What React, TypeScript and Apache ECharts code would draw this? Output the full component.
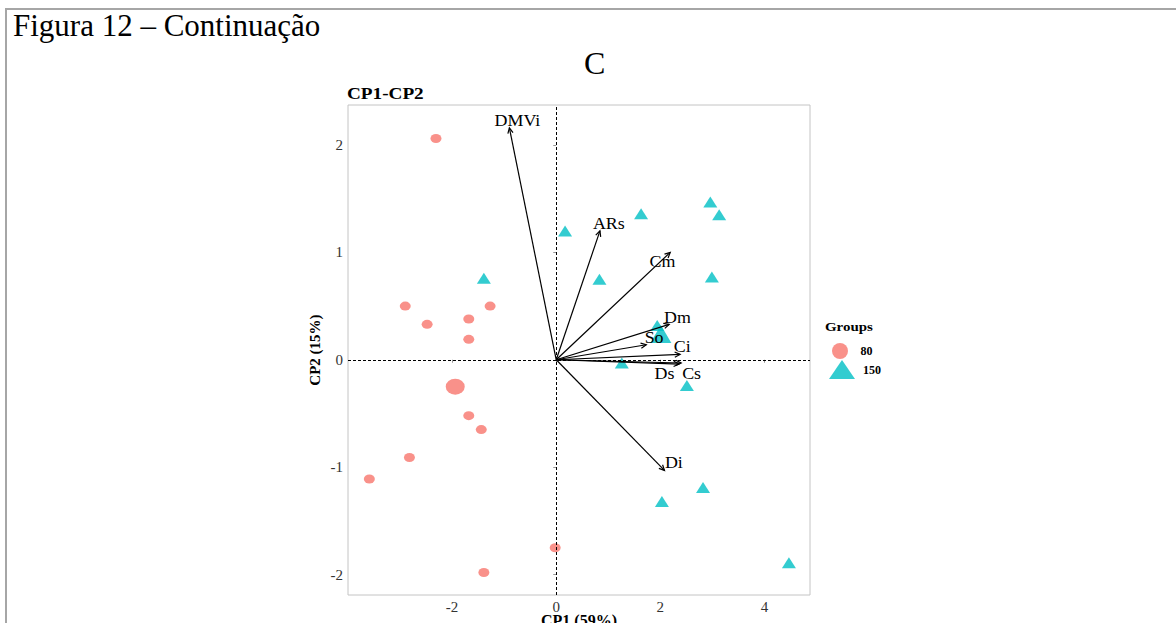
import React, { useEffect, useRef } from "react";
import * as echarts from "echarts";

const groupLabels = ["80", "150"];
const g80X = [-2.31, -2.9, -2.48, -1.68, -1.27, -1.68, -1.68, -1.44, -2.82, -3.59, -0.02, -1.39];
const g80Y = [2.06, 0.5, 0.33, 0.38, 0.5, 0.19, -0.52, -0.65, -0.91, -1.11, -1.75, -1.98];
const g80Centroid = [-1.94, -0.25];
const g150X = [-1.39, 0.17, 1.63, 2.96, 3.13, 0.83, 2.99, 1.94, 1.26, 2.51, 2.03, 2.82, 4.47];
const g150Y = [0.76, 1.2, 1.36, 1.47, 1.35, 0.75, 0.77, 0.32, -0.03, -0.24, -1.32, -1.19, -1.89];
const g150Centroid = [2.01, 0.24];
const varNames = ["DMVi", "ARs", "Cm", "Dm", "So", "Ci", "Ds", "Cs", "Di"];
const varX = [-0.9, 0.84, 2.19, 2.17, 1.73, 2.38, 2.36, 2.4, 2.08];
const varY = [2.16, 1.2, 1.0, 0.33, 0.14, 0.05, -0.04, -0.03, -1.03];
const varLabelX = [-0.745, 1.01, 2.04, 2.33, 1.88, 2.42, 2.08, 2.6, 2.26];
const varLabelY = [2.226, 1.27, 0.91, 0.39, 0.2, 0.12, -0.13, -0.13, -0.96];
const xTicks = [-2, 0, 2, 4];
const yTicks = [-2, -1, 0, 1, 2];

const RED = "#F8766D";
const CYAN = "#00BFC4";
const SERIF = '"Liberation Serif", "Times New Roman", serif';
const ELLIPSE = "path://M0,5 A5,5 0 1,1 10,5 A5,5 0 1,1 0,5 Z";

export default function App() {
  const ref = useRef<HTMLDivElement>(null);
  useEffect(() => {
    if (!ref.current) return;
    const chart = echarts.init(ref.current, null, { renderer: "svg" });
    const option: any = {
      animation: false,
      backgroundColor: "#fff",
      textStyle: { fontFamily: SERIF },
      grid: {
        left: 348,
        right: 366,
        top: 105,
        bottom: 28,
        show: true,
        borderColor: "#c4c4c4",
        borderWidth: 1,
        backgroundColor: "transparent",
        outerBoundsMode: "none",
        containLabel: false,
      },
      xAxis: {
        type: "value",
        min: -4,
        max: 4.875,
        name: "CP1 (59%)",
        nameLocation: "middle",
        nameGap: 17,
        nameMoveOverlap: false,
        nameTextStyle: { fontFamily: SERIF, fontWeight: "bold", fontSize: 16, color: "#000" },
        axisLine: { show: false },
        splitLine: { show: false },
        axisTick: { show: true, length: 3, lineStyle: { color: "#999" }, customValues: xTicks },
        axisLabel: { fontFamily: SERIF, fontSize: 15, color: "#333", margin: 4, customValues: xTicks },
      },
      yAxis: {
        type: "value",
        min: -2.19,
        max: 2.372,
        name: "CP2 (15%)",
        nameLocation: "middle",
        nameGap: 26,
        nameMoveOverlap: false,
        nameTextStyle: { fontFamily: SERIF, fontWeight: "bold", fontSize: 15, color: "#000" },
        axisLine: { show: false },
        splitLine: { show: false },
        axisTick: { show: true, length: 3, lineStyle: { color: "#999" }, customValues: yTicks },
        axisLabel: { fontFamily: SERIF, fontSize: 15, color: "#333", margin: 5, customValues: yTicks },
      },
      legend: [
        {
          left: 827,
          top: 338,
          itemWidth: 21,
          itemHeight: 16,
          data: [{ name: groupLabels[0], icon: ELLIPSE }],
          textStyle: { fontFamily: SERIF, fontWeight: "bold", fontSize: 12, color: "#000", padding: [0, 0, 0, 5] },
          selectedMode: false,
        },
        {
          left: 824,
          top: 355,
          itemWidth: 26,
          itemHeight: 19,
          data: [{ name: groupLabels[1], icon: "triangle" }],
          textStyle: { fontFamily: SERIF, fontWeight: "bold", fontSize: 12, color: "#000", padding: [0, 0, 0, 3] },
          selectedMode: false,
        },
      ],
      graphic: [
        { type: "line", shape: { x1: 5, y1: 9, x2: 1176, y2: 9 }, style: { stroke: "#a6a6a6", lineWidth: 2 } },
        { type: "line", shape: { x1: 6, y1: 8, x2: 6, y2: 623 }, style: { stroke: "#a6a6a6", lineWidth: 2 } },
        { type: "text", x: 13, y: 10, style: { text: "Figura 12 – Continuação", font: `31px ${SERIF}`, fill: "#000" } },
        { type: "text", x: 584, y: 47, style: { text: "C", font: `32px ${SERIF}`, fill: "#000" } },
        { type: "text", x: 347, y: 86, scaleX: 1.2, style: { text: "CP1-CP2", font: `bold 16px ${SERIF}`, fill: "#000" } },
        { type: "text", x: 825, y: 320, scaleX: 1.15, style: { text: "Groups", font: `bold 13px ${SERIF}`, fill: "#000" } },
      ],
      series: [
        {
          name: groupLabels[0],
          type: "scatter",
          symbol: ELLIPSE,
          symbolSize: [11, 9],
          itemStyle: { color: RED },
          data: g80X.map((x, i) => [x, g80Y[i]]),
          markLine: {
            silent: true,
            symbol: "none",
            label: { show: false },
            lineStyle: { color: "#000", type: [3, 2], width: 1 },
            data: [{ xAxis: 0 }, { yAxis: 0 }],
          },
          z: 2,
        },
        {
          name: groupLabels[0],
          type: "scatter",
          symbol: ELLIPSE,
          symbolSize: [19, 16],
          itemStyle: { color: RED },
          data: [g80Centroid],
          z: 2,
        },
        {
          name: groupLabels[1],
          type: "scatter",
          symbol: "triangle",
          symbolSize: [14, 11],
          itemStyle: { color: CYAN },
          data: g150X.map((x, i) => [x, g150Y[i]]),
          z: 2,
        },
        {
          name: groupLabels[1],
          type: "scatter",
          symbol: "triangle",
          symbolSize: [21, 18],
          itemStyle: { color: CYAN },
          data: [g150Centroid],
          z: 2,
        },
        {
          type: "custom",
          name: "vars",
          z: 5,
          encode: { x: 0, y: 1 },
          data: varX.map((x, i) => [x, varY[i], varLabelX[i], varLabelY[i]]),
          renderItem: (params: any, api: any) => {
            const tip = api.coord([api.value(0), api.value(1)]);
            const o = api.coord([0, 0]);
            const lab = api.coord([api.value(2), api.value(3)]);
            const ang = Math.atan2(tip[1] - o[1], tip[0] - o[0]);
            const L = 6;
            const a = Math.PI / 7;
            const h1 = [tip[0] - L * Math.cos(ang - a), tip[1] - L * Math.sin(ang - a)];
            const h2 = [tip[0] - L * Math.cos(ang + a), tip[1] - L * Math.sin(ang + a)];
            return {
              type: "group",
              children: [
                { type: "line", shape: { x1: o[0], y1: o[1], x2: tip[0], y2: tip[1] }, style: { stroke: "#000", lineWidth: 1.2 } },
                { type: "polyline", shape: { points: [h1, tip, h2] }, style: { stroke: "#000", fill: null, lineWidth: 1.2 } },
                {
                  type: "text",
                  x: lab[0],
                  y: lab[1],
                  scaleX: 1.12,
                  style: { text: varNames[params.dataIndex], fill: "#000", font: `16px ${SERIF}`, align: "center", verticalAlign: "middle" },
                },
              ],
            };
          },
        },
      ],
    };
    chart.setOption(option);
    return () => chart.dispose();
  }, []);
  return <div ref={ref} style={{ position: "fixed", left: 0, top: 0, width: 1176, height: 623, background: "#fff" }} />;
}
